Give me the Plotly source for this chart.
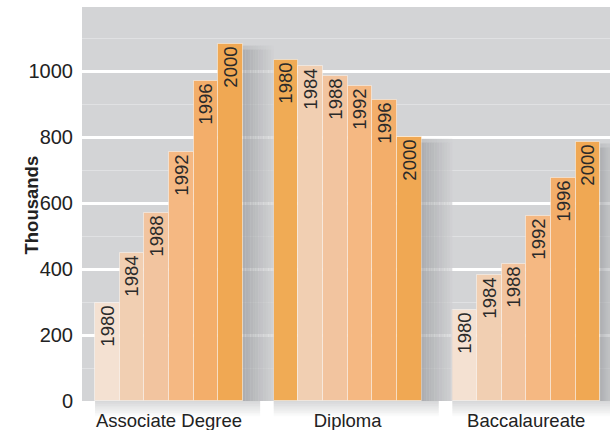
import plotly.graph_objects as go

groups = ["Associate Degree", "Diploma", "Baccalaureate"]
years = ["1980", "1984", "1988", "1992", "1996", "2000"]
associate = [298, 448, 570, 756, 970, 1083]
diploma = [1034, 1016, 986, 955, 913, 801]
baccalaureate = [277, 381, 416, 561, 677, 786]
y_ticks = [0, 200, 400, 600, 800, 1000]

series = [associate, diploma, baccalaureate]
year_colors = ["#F4E1D2", "#F1CFB2", "#F2C49F", "#F5B882", "#F3AE6A", "#F0A853"]
group_colors = [
    year_colors,
    ["#F0AB55"] + year_colors[1:],
    year_colors,
]

STEP = 7.25
FONT = "Liberation Sans, Arial, sans-serif"

fig = go.Figure()
for g, (name, vals) in enumerate(zip(groups, series)):
    xs = [g * STEP + j for j in range(len(years))]
    fig.add_trace(go.Bar(
        x=xs, y=vals, text=years, width=1.0,
        marker=dict(color=group_colors[g], line=dict(color="rgba(255,255,255,0.45)", width=1)),
        textposition="inside", insidetextanchor="end", textangle=-90,
        textfont=dict(family=FONT, size=18.5, color="#2a2a2a"),
        constraintext="none", cliponaxis=False, hoverinfo="skip", showlegend=False,
    ))

shapes = []
def shadow(x0, x1, top, c0, c1, n=12):
    for i in range(n):
        t = i / (n - 1)
        r = int(c0[0] + (c1[0] - c0[0]) * t)
        gg = int(c0[1] + (c1[1] - c0[1]) * t)
        b = int(c0[2] + (c1[2] - c0[2]) * t)
        xa = x0 + (x1 - x0) * i / n
        xb = x0 + (x1 - x0) * (i + 1) / n
        shapes.append(dict(type="rect", xref="x", yref="y", x0=xa, x1=xb, y0=0, y1=top - 18,
                           fillcolor=f"rgb({r},{gg},{b})", opacity=0.72,
                           line=dict(width=0), layer="above"))
        # soft top edge
        shapes.append(dict(type="rect", xref="x", yref="y", x0=xa, x1=xb, y0=top - 18, y1=top - 6,
                           fillcolor=f"rgb({r},{gg},{b})", opacity=0.35,
                           line=dict(width=0), layer="above"))

dark = (158, 160, 163)
light = (206, 207, 209)
for g, vals in enumerate(series):
    x0 = g * STEP + len(years) - 0.5
    x1 = x0 + (STEP - len(years)) if g < len(groups) - 1 else x0 + 0.45
    shadow(x0, x1, vals[-1], dark, light if g < len(groups) - 1 else (182, 184, 187))

# shadow under the axis
for i in range(9):
    op = 0.38 * (1 - i / 9)
    for g in range(len(groups)):
        shapes.append(dict(type="rect", xref="x", yref="paper",
                           x0=g * STEP - 0.5, x1=g * STEP + len(years) + 0.2,
                           y0=-(i + 1) * 1.7 / 394, y1=-i * 1.7 / 394,
                           fillcolor=f"rgba(150,152,155,{op:.3f})", line=dict(width=0), layer="below"))

fig.update_layout(
    width=610, height=430,
    margin=dict(l=82, r=0, t=7, b=29),
    paper_bgcolor="white", plot_bgcolor="#D3D4D6",
    bargap=0,
    shapes=shapes,
    xaxis=dict(range=[-1.03, 2 * STEP + 5.9],
               tickvals=[g * STEP + 2.5 for g in range(len(groups))], ticktext=groups,
               tickfont=dict(family=FONT, size=18.5, color="#222"),
               showgrid=False, zeroline=False, ticks="", ticklabelstandoff=6),
    yaxis=dict(range=[0, 1194], tickvals=y_ticks,
               tickfont=dict(family=FONT, size=20, color="#222"),
               showgrid=True, gridcolor="white", gridwidth=2.5, zeroline=False,
               minor=dict(dtick=100, showgrid=True, gridcolor="#E0E1E3", gridwidth=1),
               ticks="", ticklabelstandoff=8),
    annotations=[dict(text="<b>Thousands</b>", textangle=-90, xref="paper", yref="paper",
                      x=(18 - 82) / 528, y=(401 - 205) / 394, showarrow=False,
                      font=dict(family=FONT, size=18.5, color="#222"))],
)

fig.write_html("out.html")
